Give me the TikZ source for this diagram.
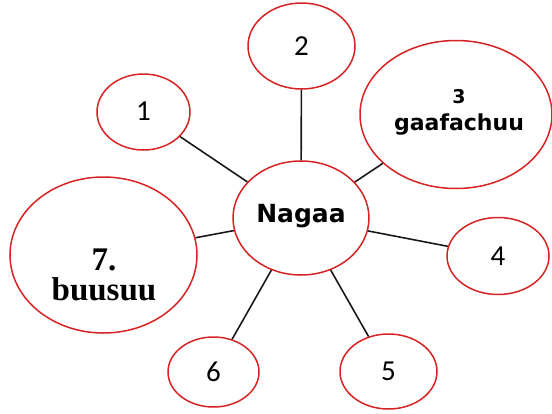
\documentclass[tikz,border=0pt]{standalone}
\usepackage{fontspec}
\usetikzlibrary{shapes.geometric}
\newfontfamily\djv{DejaVu Sans}
\newfontfamily\lserif{Liberation Serif}
\newfontfamily\carl{Carlito}
\definecolor{ringred}{RGB}{215,35,35}
\tikzset{
  bubble/.style={ellipse, draw=ringred, line width=1.5pt, fill=white, inner sep=0pt},
  link/.style={draw=black!90, line width=1.6pt},
  numtxt/.style={font=\carl\fontsize{29}{32}\selectfont, text=black},
}
\begin{document}
\begin{tikzpicture}[x=1pt,y=-1pt]
\useasboundingbox (0,0) rectangle (552,413);
% ellipses
\node[bubble, minimum width=136pt, minimum height=114pt] (c) at (301,218) {};
\node[bubble, minimum width=93pt, minimum height=76pt] (n1) at (143.5,112) {};
\node[bubble, minimum width=107pt, minimum height=86pt] (n2) at (301.5,46) {};
\node[bubble, minimum width=192pt, minimum height=148pt] (n3) at (456,114.5) {};
\node[bubble, minimum width=102pt, minimum height=77pt] (n4) at (498,256) {};
\node[bubble, minimum width=97pt, minimum height=75pt] (n5) at (388.5,371.5) {};
\node[bubble, minimum width=91pt, minimum height=70pt] (n6) at (213.5,372) {};
\node[bubble, minimum width=187pt, minimum height=156pt] (n7) at (103.5,255) {};
% connectors
\draw[link] (c) -- (n1);
\draw[link] (c) -- (n2);
\draw[link] (c) -- (n3);
\draw[link] (c) -- (n4);
\draw[link] (c) -- (n5);
\draw[link] (c) -- (n6);
\draw[link] (c) -- (n7);
% texts
\node[font=\djv\bfseries\fontsize{25}{28}\selectfont] (tc) at (301,216) {Nagaa};
\node[numtxt] (t1) at (143.5,111) {1};
\node[numtxt] (t2) at (301.5,46) {2};
\node[align=center, font=\djv\bfseries\fontsize{22}{27}\selectfont] (t3) at (459,112) {{\fontsize{19}{27}\selectfont 3}\\gaafachuu};
\node[numtxt] (t4) at (498,256) {4};
\node[numtxt] (t5) at (388.5,371) {5};
\node[numtxt] (t6) at (213.5,372) {6};
\node[align=center, font=\lserif\bfseries\fontsize{33}{30}\selectfont] (t7) at (104,275) {7.\\buusuu};
\end{tikzpicture}
\end{document}
